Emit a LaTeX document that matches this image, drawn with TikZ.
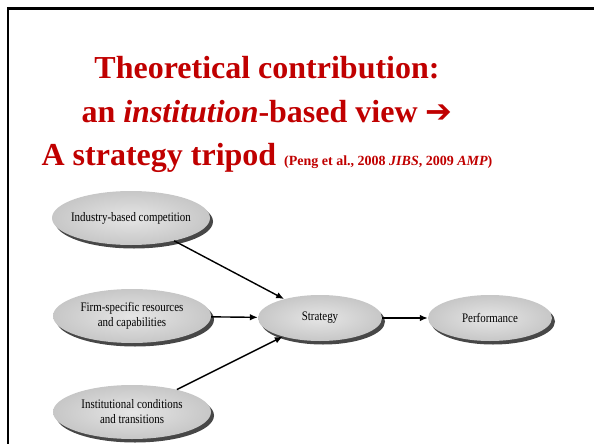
\documentclass[tikz,border=0pt]{standalone}
\usepackage{fontspec}
\setmainfont{Liberation Serif}
\newfontfamily\arrowfont{DejaVu Sans}
\newfontfamily\labelfont[FakeStretch=0.84]{Liberation Serif}
\usetikzlibrary{shapes.geometric,shadows,arrows.meta}

\definecolor{titlered}{RGB}{192,0,0}

\begin{document}
\begin{tikzpicture}[x=1pt, y=-1pt,
    factor/.style={ellipse, inner color=black!10, outer color=black!22,
        minimum width=158pt, minimum height=54pt, inner xsep=-10pt, inner ysep=-1pt,
        align=center, font=\labelfont\fontsize{13}{15}\selectfont,
        drop shadow={shadow xshift=3pt, shadow yshift=-3.5pt, fill=black!72, opacity=1}},
    small factor/.style={factor, minimum width=124pt, minimum height=46pt},
    title/.style={anchor=base, text=titlered, font=\fontsize{32}{36}\selectfont\bfseries},
    link/.style={line width=1.4pt, -{Latex[length=8pt,width=6.5pt]}}
]

\useasboundingbox (0,0) rectangle (594,444);

% slide frame, cut off on the right and at the bottom
\draw[line width=2.5pt] (8,446) -- (8,8.5) -- (596,8.5);

% heading
\node[title] (title1) at (267,78) {Theoretical contribution:};
\node[title] (title2) at (267,122) {an \textit{institution}-based view {\arrowfont\fontsize{32}{34}\selectfont ➔}};
\node[title] (title3) at (267,165) {A strategy tripod {\fontsize{14}{16}\selectfont (Peng et al., 2008 \textit{JIBS}, 2009 \textit{AMP})}};

% the three legs
\node[factor] (industry) at (131,218) {Industry-based competition};
\node[factor] (firm) at (132,316) {Firm-specific resources\\and capabilities};
\node[factor] (institution) at (132,412) {Institutional conditions\\and transitions};

\node[small factor] (strategy) at (320,318) {Strategy};
\node[small factor] (performance) at (490,318) {Performance};

\draw[link] (industry) -- (strategy);
\draw[link] (firm) -- (strategy);
\draw[link] (institution) -- (strategy);
\draw[link] (strategy) -- (performance);

\end{tikzpicture}
\end{document}
